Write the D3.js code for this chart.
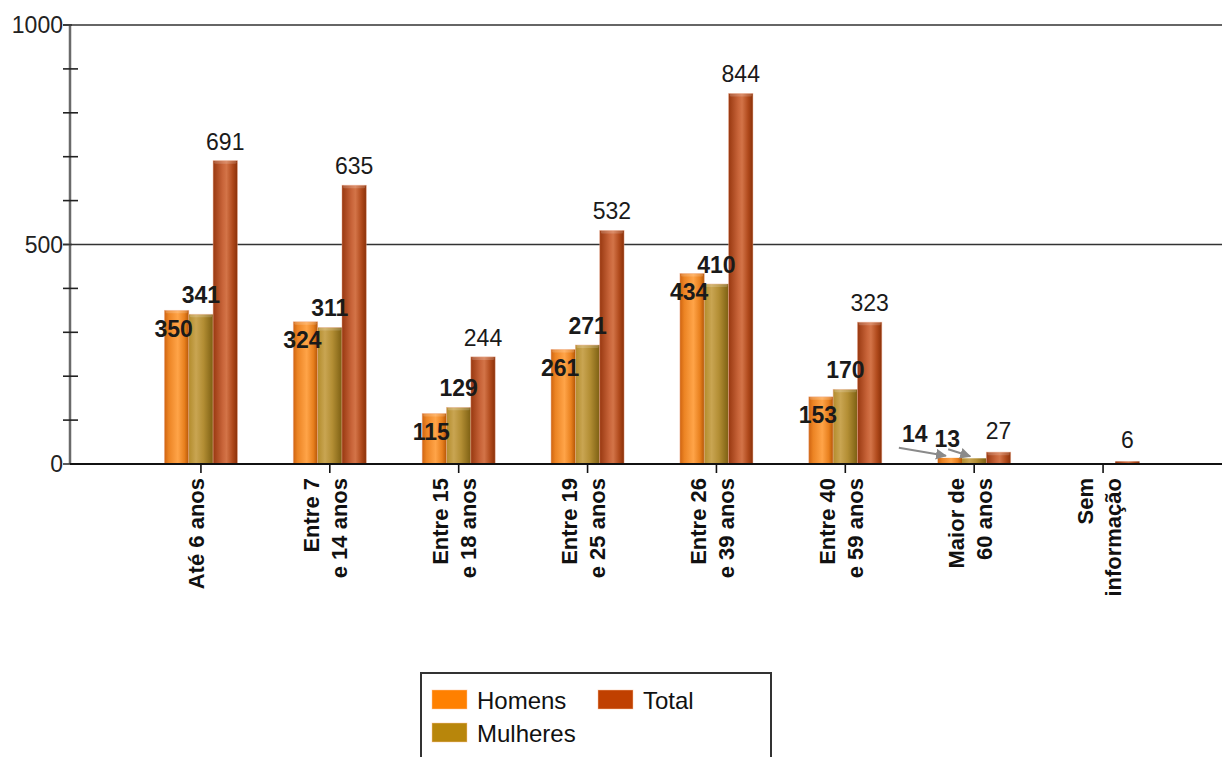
<!DOCTYPE html>
<html>
<head>
<meta charset="utf-8">
<script src="https://cdn.jsdelivr.net/npm/d3@7"></script>
<style>
  html, body { margin: 0; padding: 0; background: #fff; }
  svg { display: block; font-family: "Liberation Sans", Arial, sans-serif; }
</style>
</head>
<body>
<svg id="chart" width="1222" height="757"></svg>
<script>
// Age groups (line breaks mark the wrapped axis labels)
const categories = [
  "Até 6 anos",
  "Entre 7\ne 14 anos",
  "Entre 15\ne 18 anos",
  "Entre 19\ne 25 anos",
  "Entre 26\ne 39 anos",
  "Entre 40\ne 59 anos",
  "Maior de\n60 anos",
  "Sem\ninformação"
];
const seriesNames = ["Homens", "Mulheres", "Total"];
const homens   = [350, 324, 115, 261, 434, 153, 14, 0];
const mulheres = [341, 311, 129, 271, 410, 170, 13, 0];
const total    = [691, 635, 244, 532, 844, 323, 27, 6];
const yMajorTicks = [0, 500, 1000];
const yMinorTicks = [100, 200, 300, 400, 600, 700, 800, 900];

const seriesValues = { Homens: homens, Mulheres: mulheres, Total: total };
const swatch = { Homens: "#ff8000", Mulheres: "#b8860b", Total: "#c04000" };

const svg = d3.select("#chart");
const W = 1222;
const axisX = 70;

const y = d3.scaleLinear().domain([0, 1000]).range([464, 25]);
const x0 = d3.scaleBand().domain(categories).range([136.5, 1167.5]).padding(0);
const groupW = 73;
const x1 = d3.scaleBand().domain(seriesNames).range([0, groupW]).padding(0);
const groupLeft = c => x0(c) + (x0.bandwidth() - groupW) / 2;
const tickX = c => x0(c) + x0.bandwidth() / 2;

// Cylinder shading for each series
const defs = svg.append("defs");
const gradStops = {
  Homens: [[0, "#cf6410"], [0.18, "#ec8424"], [0.55, "#ffa448"], [0.82, "#e8801e"], [1, "#b55606"]],
  Mulheres: [[0, "#b38c2c"], [0.3, "#c9a552"], [0.6, "#b38e34"], [1, "#7c5f12"]],
  Total: [[0, "#983810"], [0.4, "#c9653a"], [0.55, "#d37448"], [0.8, "#b04a1c"], [1, "#8a3008"]]
};
seriesNames.forEach(s => {
  const g = defs.append("linearGradient").attr("id", "grad-" + s)
    .attr("x1", "0").attr("x2", "1").attr("y1", "0").attr("y2", "0");
  gradStops[s].forEach(([o, c]) => g.append("stop").attr("offset", o).attr("stop-color", c));
});
defs.append("marker").attr("id", "arrow")
  .attr("viewBox", "0 0 10 10").attr("refX", 9).attr("refY", 5)
  .attr("markerWidth", 5.5).attr("markerHeight", 5.5).attr("orient", "auto")
  .append("path").attr("d", "M0,0 L10,5 L0,10 z").attr("fill", "#8a8a8a");

// Horizontal reference lines at the labelled values
svg.append("g").selectAll("line").data(yMajorTicks.filter(d => d > 0)).join("line")
  .attr("x1", 63).attr("x2", W)
  .attr("y1", d => y(d)).attr("y2", d => y(d))
  .attr("stroke", "#333").attr("stroke-width", 1.6);

// Y axis
const yAxis = svg.append("g");
yAxis.append("line").attr("x1", axisX).attr("x2", axisX)
  .attr("y1", y(1000)).attr("y2", y(0))
  .attr("stroke", "#6a6a6a").attr("stroke-width", 2.5);
yAxis.selectAll(".minor").data(yMinorTicks).join("line").attr("class", "minor")
  .attr("x1", 63).attr("x2", 78)
  .attr("y1", d => y(d)).attr("y2", d => y(d))
  .attr("stroke", "#222").attr("stroke-width", 1.6);
yAxis.selectAll(".major").data(yMajorTicks).join("line").attr("class", "major")
  .attr("x1", 63).attr("x2", 72)
  .attr("y1", d => y(d)).attr("y2", d => y(d))
  .attr("stroke", "#333").attr("stroke-width", 1.6);
yAxis.selectAll("text").data(yMajorTicks).join("text")
  .attr("x", 63).attr("y", d => y(d))
  .attr("text-anchor", "end").attr("dominant-baseline", "central")
  .attr("font-size", 23).attr("fill", "#222")
  .text(d => d);

// Bars
const barData = [];
categories.forEach((c, i) => {
  seriesNames.forEach(s => barData.push({ cat: c, series: s, value: seriesValues[s][i] }));
});
const bw = x1.bandwidth();
const barH = d => y(0) - y(d.value);
const bars = svg.append("g").selectAll("g").data(barData.filter(d => d.value > 0)).join("g");
bars.append("rect")
  .attr("x", d => groupLeft(d.cat) + x1(d.series))
  .attr("y", d => y(d.value))
  .attr("width", bw)
  .attr("height", barH)
  .attr("fill", d => `url(#grad-${d.series})`)
  .attr("stroke", d => barH(d) > 8 ? "rgba(235,170,140,0.55)" : "none")
  .attr("stroke-width", 0.8);
// lighter rim on the cylinder tops (only where the bar is tall enough)
bars.filter(d => barH(d) > 8).append("rect")
  .attr("x", d => groupLeft(d.cat) + x1(d.series) + 1)
  .attr("y", d => y(d.value))
  .attr("width", bw - 2)
  .attr("height", 3)
  .attr("rx", 1.5)
  .attr("fill", "rgba(255,255,255,0.18)");

// X axis
svg.append("line").attr("x1", axisX).attr("x2", W)
  .attr("y1", y(0)).attr("y2", y(0))
  .attr("stroke", "#111").attr("stroke-width", 1.8);
svg.append("g").selectAll("line").data(categories).join("line")
  .attr("x1", tickX).attr("x2", tickX)
  .attr("y1", y(0)).attr("y2", y(0) + 9)
  .attr("stroke", "#111").attr("stroke-width", 1.6);

// Rotated category labels
const lineGap = 28;
const catLabels = svg.append("g").selectAll("text").data(categories).join("text")
  .attr("transform", c => `translate(${tickX(c) - 4},${y(0) + 14}) rotate(-90)`)
  .attr("text-anchor", "end")
  .attr("font-size", 22).attr("font-weight", "bold").attr("fill", "#111");
catLabels.each(function (c) {
  const lines = c.split("\n");
  const t = d3.select(this);
  lines.forEach((ln, k) => {
    t.append("tspan").attr("x", 0)
      .attr("y", (k - (lines.length - 1) / 2) * lineGap)
      .attr("dominant-baseline", "central")
      .text(ln);
  });
});

// Value labels
const labelG = svg.append("g");
const smallLimit = 30;
barData.filter(d => d.value > 0).forEach(d => {
  const cx = groupLeft(d.cat) + x1(d.series) + bw / 2;
  const top = y(d.value);
  let lx = cx, ly, weight = "bold";
  if (d.series === "Total") {
    ly = top - (d.value < smallLimit ? 13 : 11);
    weight = "normal";
  } else if (d.value < smallLimit) {
    // tiny bars: label moved up-left with a pointer to the bar
    const shift = d.series === "Homens" ? { dx: -35, dy: -16, ax: -51, ay: -10 } : { dx: -27, dy: -11, ax: -26, ay: -9 };
    lx = cx + shift.dx;
    ly = top + shift.dy;
    labelG.append("line")
      .attr("x1", cx + shift.ax).attr("y1", top + shift.ay)
      .attr("x2", cx - 4).attr("y2", top - 2)
      .attr("stroke", "#8a8a8a").attr("stroke-width", 2)
      .attr("marker-end", "url(#arrow)");
  } else if (d.series === "Homens") {
    lx = cx - 3;
    ly = top + 26.5;
  } else {
    ly = top - 11;
  }
  labelG.append("text")
    .attr("x", lx).attr("y", ly)
    .attr("text-anchor", "middle")
    .attr("font-size", 23).attr("font-weight", weight).attr("fill", "#1a1a1a")
    .text(d.value);
});

// Legend
const legend = svg.append("g");
legend.append("rect").attr("x", 421).attr("y", 673).attr("width", 350).attr("height", 100)
  .attr("fill", "#fff").attr("stroke", "#333").attr("stroke-width", 2);
const legendItems = [
  { name: "Homens", col: 0, row: 0 },
  { name: "Total", col: 1, row: 0 },
  { name: "Mulheres", col: 0, row: 1 }
];
const li = legend.selectAll("g").data(legendItems).join("g")
  .attr("transform", d => `translate(${432 + d.col * 166},${690 + d.row * 33})`);
li.append("rect").attr("width", 35).attr("height", 19)
  .attr("fill", d => swatch[d.name]).attr("stroke", "rgba(255,200,160,0.6)").attr("stroke-width", 0.8);
li.append("text").attr("x", 45).attr("y", 10)
  .attr("dominant-baseline", "central")
  .attr("font-size", 24).attr("fill", "#111")
  .text(d => d.name);
</script>
</body>
</html>
